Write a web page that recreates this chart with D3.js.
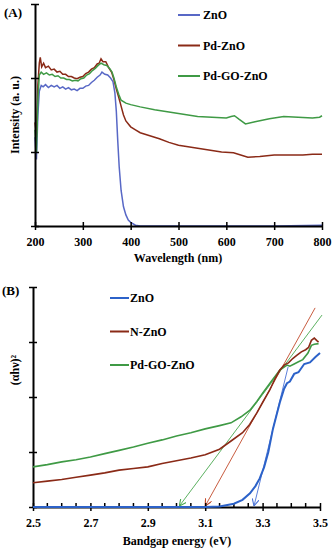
<!DOCTYPE html>
<html>
<head>
<meta charset="utf-8">
<script src="https://cdn.jsdelivr.net/npm/d3@7"></script>
<style>
  body { margin: 0; background: #fff; }
  svg text { font-family: "Liberation Serif", "Times New Roman", serif; font-weight: bold; }
</style>
</head>
<body>
<div id="chart"></div>
<script>
// ---- panel A: absorbance spectra, [wavelength nm, intensity a.u.] ----
const absZnO = [[200,1.2],[203,0.9],[206,1.5],[209,1.82],[213,1.9],[217,1.88],[222,1.91],[228,1.87],[234,1.9],[240,1.88],[246,1.9],[252,1.86],[258,1.88],[264,1.85],[270,1.87],[276,1.84],[282,1.85],[288,1.83],[294,1.86],[300,1.86],[306,1.89],[312,1.9],[318,1.94],[324,1.97],[330,2.01],[336,2.04],[340,2.08],[346,2.05],[352,2.04],[358,2.0],[363,1.95],[367,1.8],[370,1.55],[373,1.15],[376,0.8],[380,0.48],[385,0.26],[390,0.15],[395,0.08],[400,0.05],[410,0.01],[420,0],[500,0],[600,0],[700,0],[800,0.01]];
const absPdZnO = [[200,1.4],[203,1.2],[206,1.9],[209,2.2],[211,2.28],[214,2.15],[218,2.2],[222,2.14],[228,2.16],[234,2.11],[240,2.12],[246,2.08],[252,2.09],[258,2.05],[264,2.05],[270,2.02],[276,2.02],[282,2.0],[288,1.99],[294,2.01],[300,2.02],[306,2.06],[312,2.08],[318,2.12],[324,2.14],[330,2.19],[334,2.2],[338,2.26],[342,2.22],[348,2.22],[354,2.14],[360,2.08],[365,1.98],[370,1.85],[375,1.74],[380,1.62],[385,1.5],[390,1.42],[400,1.34],[410,1.3],[420,1.26],[440,1.22],[460,1.18],[480,1.13],[500,1.09],[530,1.06],[560,1.03],[590,1.0],[615,0.99],[630,0.96],[645,0.93],[670,0.94],[700,0.96],[730,0.96],[760,0.96],[780,0.97],[800,0.97]];
const absPdGOZnO = [[200,1.3],[203,1.0],[206,1.7],[209,2.04],[213,2.08],[218,2.05],[224,2.07],[230,2.04],[236,2.05],[242,2.02],[248,2.03],[254,2.0],[260,2.0],[266,1.98],[272,1.98],[278,1.96],[284,1.97],[290,1.96],[296,1.99],[302,2.0],[308,2.04],[314,2.06],[320,2.1],[326,2.13],[332,2.17],[338,2.2],[344,2.18],[350,2.17],[356,2.13],[361,2.08],[365,2.0],[370,1.88],[375,1.78],[380,1.7],[390,1.66],[400,1.64],[420,1.61],[450,1.57],[480,1.54],[510,1.51],[540,1.48],[570,1.47],[600,1.46],[610,1.48],[617,1.49],[627,1.44],[640,1.38],[660,1.41],[690,1.45],[720,1.48],[750,1.47],[780,1.46],[795,1.47],[800,1.49]];

const absSeries = [
  {name: "ZnO", color: "#5868c6", data: absZnO},
  {name: "Pd-ZnO", color: "#8a2a17", data: absPdZnO},
  {name: "Pd-GO-ZnO", color: "#3f9a45", data: absPdGOZnO}
];
const wavelengthTicks = [200, 300, 400, 500, 600, 700, 800];
const intensityTicks = [0, 1, 2, 3];

// ---- panel B: Tauc plot, [energy eV, (ahv)^2] ----
const taucZnO = [[2.5,0],[2.7,0],[2.9,0],[3.1,0],[3.15,0.01],[3.2,0.06],[3.23,0.13],[3.256,0.25],[3.275,0.38],[3.29,0.52],[3.305,0.72],[3.32,1.0],[3.336,1.42],[3.35,1.7],[3.36,1.9],[3.375,2.15],[3.385,2.25],[3.395,2.28],[3.41,2.42],[3.425,2.45],[3.445,2.6],[3.465,2.63],[3.485,2.73],[3.5,2.8]];
const taucNZnO = [[2.5,0.44],[2.55,0.47],[2.6,0.5],[2.65,0.54],[2.7,0.58],[2.75,0.62],[2.8,0.67],[2.85,0.7],[2.9,0.73],[2.95,0.79],[3.0,0.84],[3.05,0.89],[3.1,0.95],[3.15,1.05],[3.19,1.2],[3.23,1.35],[3.255,1.5],[3.28,1.71],[3.3,1.9],[3.325,2.13],[3.345,2.35],[3.36,2.49],[3.375,2.58],[3.39,2.62],[3.405,2.7],[3.42,2.76],[3.435,2.82],[3.45,2.86],[3.46,2.9],[3.47,3.03],[3.48,3.07],[3.49,3.02],[3.495,3.0]];
const taucPdGOZnO = [[2.5,0.73],[2.55,0.77],[2.6,0.82],[2.65,0.86],[2.7,0.91],[2.75,0.97],[2.8,1.03],[2.85,1.09],[2.9,1.16],[2.95,1.22],[3.0,1.29],[3.05,1.35],[3.1,1.42],[3.15,1.48],[3.19,1.53],[3.225,1.64],[3.256,1.76],[3.28,1.92],[3.3,2.07],[3.33,2.28],[3.36,2.49],[3.385,2.58],[3.395,2.56],[3.41,2.6],[3.425,2.64],[3.44,2.68],[3.458,2.8],[3.47,2.94],[3.48,2.96],[3.495,2.97]];

const taucSeries = [
  {name: "ZnO", color: "#2c62c9", data: taucZnO, width: 2},
  {name: "N-ZnO", color: "#8a2a17", data: taucNZnO, width: 1.6},
  {name: "Pd-GO-ZnO", color: "#3f9a45", data: taucPdGOZnO, width: 1.6}
];
// tangent (extrapolation) lines: [bottom point, top point]
const tangents = [
  {color: "#4a72d6", from: [3.27, 0], to: [3.389, 2.55]},
  {color: "#c24a2a", from: [3.1, 0], to: [3.483, 3.62]},
  {color: "#4aa84f", from: [3.01, 0], to: [3.507, 3.49]}
];
const energyTicks = [2.5, 2.7, 2.9, 3.1, 3.3, 3.5];
const energyMinor = [2.55,2.6,2.65,2.75,2.8,2.85,2.95,3.0,3.05,3.15,3.2,3.25,3.35,3.4,3.45];
const taucYTicks = [0, 1, 2, 3, 4];

const W = 335, H = 550;
const svg = d3.select("#chart").append("svg")
  .attr("width", W).attr("height", H);

svg.append("defs").selectAll("marker")
  .data(tangents)
  .enter().append("marker")
  .attr("id", (d, i) => "arrow" + i)
  .attr("viewBox", "0 0 10 10")
  .attr("refX", 10).attr("refY", 5)
  .attr("markerWidth", 7).attr("markerHeight", 7)
  .attr("markerUnits", "userSpaceOnUse")
  .attr("orient", "auto")
  .append("path")
  .attr("d", "M0,0 L10,5 L0,10")
  .attr("fill", "none")
  .attr("stroke", d => d.color)
  .attr("stroke-width", 1.6);

function styleAxis(g) {
  g.select(".domain").attr("stroke-width", 2);
  g.selectAll(".tick line").attr("stroke-width", 1.5);
}

// ================= Panel A =================
const xA = d3.scaleLinear().domain([200, 800]).range([35, 322]);
const yA = d3.scaleLinear().domain([0, 3]).range([226, 4]);

const gA = svg.append("g");

absSeries.forEach(s => {
  gA.append("path")
    .datum(s.data)
    .attr("fill", "none")
    .attr("stroke", s.color)
    .attr("stroke-width", 1.5)
    .attr("d", d3.line().x(d => xA(d[0])).y(d => yA(d[1])));
});

const axAx = gA.append("g")
  .attr("transform", "translate(0," + yA(0) + ")")
  .call(d3.axisBottom(xA).tickValues(wavelengthTicks).tickSize(4).tickSizeOuter(0).tickPadding(7));
axAx.selectAll(".tick line").attr("y1", -4);
axAx.selectAll("text").attr("font-size", 12).attr("font-family", "Liberation Serif").attr("font-weight", "bold");
styleAxis(axAx);

const ayAx = gA.append("g")
  .attr("transform", "translate(" + xA(200) + ",0)")
  .call(d3.axisLeft(yA).tickValues(intensityTicks).tickSize(4).tickSizeOuter(0).tickFormat(""));
ayAx.selectAll(".tick line").attr("x2", 4).attr("x1", -4);
styleAxis(ayAx);

gA.append("text").attr("x", 178).attr("y", 262).attr("text-anchor", "middle")
  .attr("font-size", 12).text("Wavelength (nm)");
gA.append("text").attr("transform", "translate(19,115) rotate(-90)").attr("text-anchor", "middle")
  .attr("font-size", 12).text("Intensity (a. u.)");
gA.append("text").attr("x", 4).attr("y", 17).attr("font-size", 13).text("(A)");

const legA = gA.selectAll(".legA").data(absSeries).enter().append("g")
  .attr("transform", (d, i) => "translate(178," + (15 + i * 30.5) + ")");
legA.append("line").attr("x1", 0).attr("x2", 22).attr("stroke", d => d.color).attr("stroke-width", 2);
legA.append("text").attr("x", 25).attr("y", 4).attr("font-size", 12).text(d => d.name);

// ================= Panel B =================
const xB = d3.scaleLinear().domain([2.5, 3.5]).range([33, 320]);
const yB = d3.scaleLinear().domain([0, 4]).range([507, 287]);

const gB = svg.append("g");

tangents.forEach((t, i) => {
  gB.append("line")
    .attr("x1", xB(t.to[0])).attr("y1", yB(t.to[1]))
    .attr("x2", xB(t.from[0])).attr("y2", yB(t.from[1]) - 1)
    .attr("stroke", t.color)
    .attr("stroke-width", 0.9)
    .attr("marker-end", "url(#arrow" + i + ")");
});

const bxAx = gB.append("g")
  .attr("transform", "translate(0," + yB(0) + ")")
  .call(d3.axisBottom(xB).tickValues(energyTicks).tickFormat(d3.format(".1f")).tickSize(4).tickSizeOuter(0).tickPadding(7));
bxAx.selectAll(".tick line").attr("y1", -4);
bxAx.selectAll("text").attr("font-size", 12).attr("font-family", "Liberation Serif").attr("font-weight", "bold");
styleAxis(bxAx);
bxAx.selectAll(".minor").data(energyMinor).enter().append("line")
  .attr("class", "minor")
  .attr("x1", d => xB(d)).attr("x2", d => xB(d))
  .attr("y1", 0).attr("y2", -4)
  .attr("stroke", "#000").attr("stroke-width", 1.5);

const byAx = gB.append("g")
  .attr("transform", "translate(" + xB(2.5) + ",0)")
  .call(d3.axisLeft(yB).tickValues(taucYTicks).tickSize(4).tickSizeOuter(0).tickFormat(""));
byAx.selectAll(".tick line").attr("x2", 4).attr("x1", -4);
styleAxis(byAx);

taucSeries.slice().reverse().forEach(s => {
  gB.append("path")
    .datum(s.data)
    .attr("fill", "none")
    .attr("stroke", s.color)
    .attr("stroke-width", s.width)
    .attr("d", d3.line().x(d => xB(d[0])).y(d => yB(d[1])));
});

gB.append("text").attr("x", 177).attr("y", 545).attr("text-anchor", "middle")
  .attr("font-size", 12).text("Bandgap energy (eV)");
gB.append("text").attr("transform", "translate(19,370) rotate(-90)").attr("text-anchor", "middle")
  .attr("font-size", 12).text("(αhν)²");
gB.append("text").attr("x", 2).attr("y", 295).attr("font-size", 13).text("(B)");

const legB = gB.selectAll(".legB").data(taucSeries).enter().append("g")
  .attr("transform", (d, i) => "translate(110," + (298 + i * 33.5) + ")");
legB.append("line").attr("x1", 0).attr("x2", 19).attr("stroke", d => d.color).attr("stroke-width", 2);
legB.append("text").attr("x", 20).attr("y", 4).attr("font-size", 12).text(d => d.name);
</script>
</body>
</html>
